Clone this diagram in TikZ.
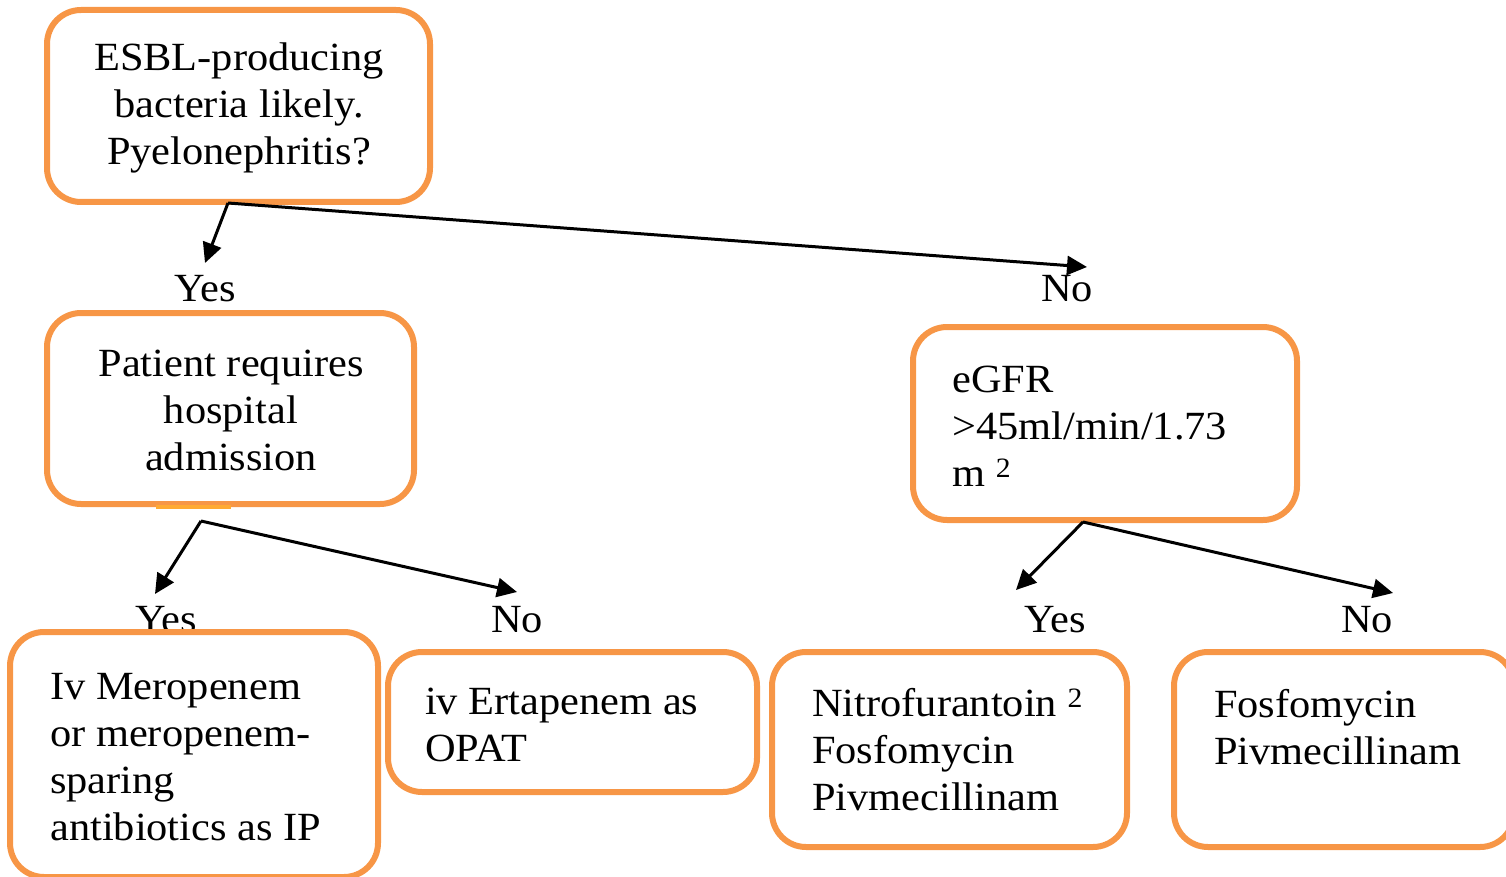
\documentclass[tikz,border=0pt]{standalone}
\usepackage{fontspec}
\setmainfont{Liberation Serif}[FakeStretch=1.06]
\usetikzlibrary{arrows.meta,calc}
\definecolor{boxorange}{HTML}{F79646}
\definecolor{seamorange}{HTML}{FFAA33}
\begin{document}
\begin{tikzpicture}[x=1pt,y=-1pt,
  box/.style={draw=boxorange,line width=6pt,rounded corners=34pt,rectangle,inner sep=0pt},
  txt/.style={font=\fontsize{40}{47}\selectfont,inner sep=0pt},
  lbl/.style={font=\fontsize{40}{47}\selectfont,inner sep=0pt},
  arr/.style={draw=black,line width=3pt,-{Triangle[length=20pt,width=19pt]}}]
\useasboundingbox (0,0) rectangle (1506,877);

% labels
\node[lbl] (y1) at (205,289) {Yes};
\node[lbl] (n1) at (1067,289) {No};
\node[lbl] (y2) at (166,620) {Yes};
\node[lbl] (n2) at (517,620) {No};
\node[lbl] (y3) at (1055,620) {Yes};
\node[lbl] (n3) at (1367,620) {No};

% boxes
\node[box,minimum width=383pt,minimum height=192pt] (b1) at (238.5,106) {};
\node[box,minimum width=367pt,minimum height=191pt] (b2) at (230.5,408.5) {};
\node[box,minimum width=384pt,minimum height=193pt] (b3) at (1105,423.5) {};
\node[box,minimum width=368pt,minimum height=245pt] (b4) at (194,754.5) {};
\node[box,minimum width=369pt,minimum height=140pt] (b5) at (572.5,722) {};
\node[box,minimum width=355pt,minimum height=195pt] (b6) at (949.5,749.5) {};
\node[box,minimum width=340pt,minimum height=195pt] (b7) at (1344,749.5) {};

% seam on box 2
\draw[seamorange,line width=4pt] ($(b2.south)+(-75,0)$) -- ($(b2.south)+(0,0)$);

% texts
\node[txt,align=center] (t1) at (239,107.5) {ESBL-producing\\bacteria likely.\\Pyelonephritis?};
\node[txt,align=center] (t2) at (231,410) {Patient requires\\hospital\\admission};
\node[txt,align=left,anchor=west] (t3) at (952,426) {eGFR\\>45ml/min/1.73\\m \textsuperscript{2}};
\node[txt,align=left,anchor=west] (t4) at (50,757) {Iv Meropenem\\or meropenem-\\sparing\\antibiotics as IP};
\node[txt,align=left,anchor=west] (t5) at (425,725) {iv Ertapenem as\\OPAT};
\node[txt,align=left,anchor=west] (t6) at (812,750) {Nitrofurantoin \textsuperscript{2}\\Fosfomycin\\Pivmecillinam};
\node[txt,align=left,anchor=west] (t7) at (1214,727.5) {Fosfomycin\\Pivmecillinam};

% connector points
\coordinate (a1) at (205,263);
\coordinate (a2) at (1087,267);
\coordinate (a3) at (155,594);
\coordinate (a4) at (517,592);
\coordinate (a5) at (1016,590);
\coordinate (a6) at (1393,593);

\draw[arr] ([xshift=-10.5pt,yshift=2pt]b1.south) -- (a1);
\draw[arr] ([xshift=-10.5pt,yshift=2pt]b1.south) -- (a2);
\draw[arr] ([xshift=-29.5pt,yshift=-14pt]b2.south) -- (a3);
\draw[arr] ([xshift=-29.5pt,yshift=-14pt]b2.south) -- (a4);
\draw[arr] ([xshift=-22pt,yshift=1pt]b3.south) -- (a5);
\draw[arr] ([xshift=-22pt,yshift=1pt]b3.south) -- (a6);
\end{tikzpicture}
\end{document}
